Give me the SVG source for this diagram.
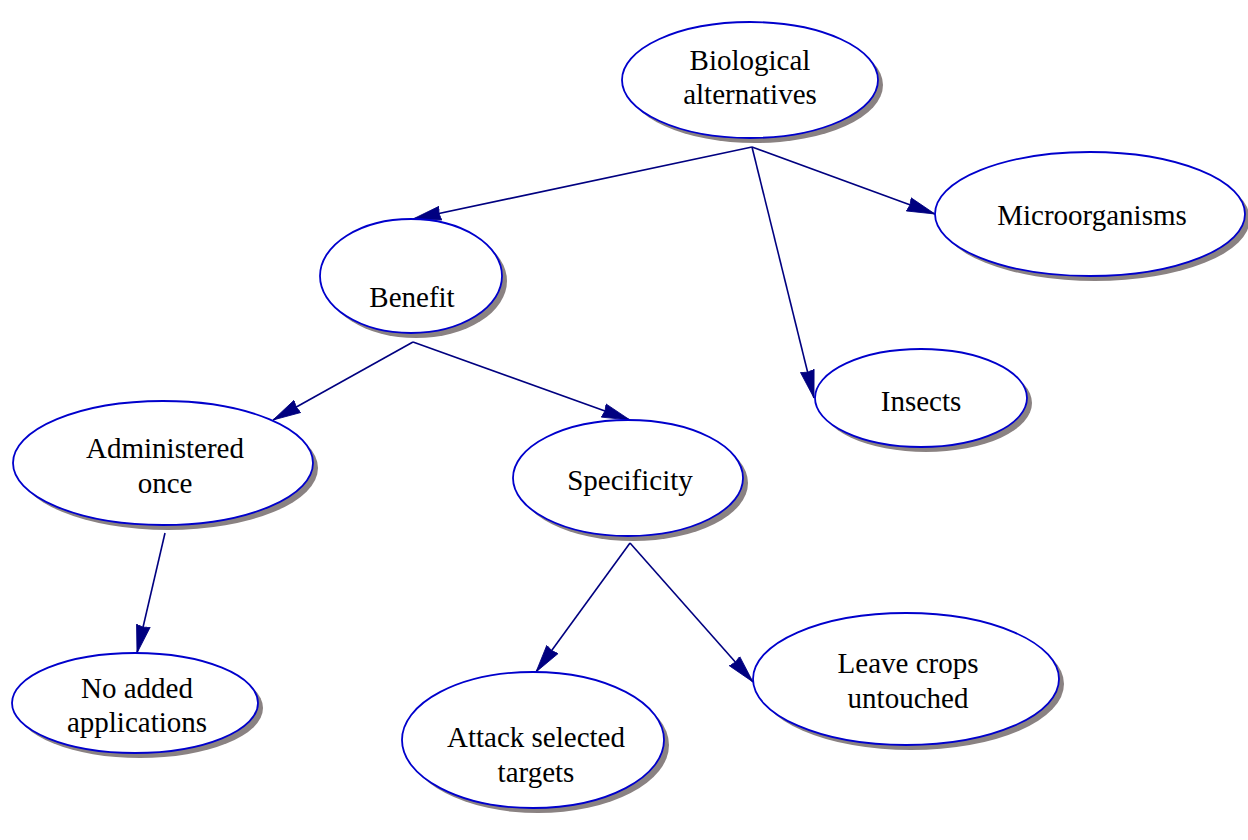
<svg xmlns="http://www.w3.org/2000/svg" width="1248" height="840" viewBox="0 0 1248 840">
  <style>
    .shadow { fill: #8a8282; }
    .node { fill: #ffffff; stroke: #0000cc; stroke-width: 1.8; }
    .label { font-family: "Liberation Serif", "Times New Roman", serif; font-size: 29px; fill: #000000; text-anchor: middle; }
    .edge { stroke: #000080; stroke-width: 1.6; fill: none; marker-end: url(#arrow); }
  </style>
  <defs>
    <marker id="arrow" markerUnits="userSpaceOnUse" markerWidth="30" markerHeight="18" refX="28" refY="9" orient="auto">
      <path d="M0,2 L28,9 L0,16 L1.5,9 z" fill="#000080" stroke="#000080" stroke-width="0.8" stroke-linejoin="round"/>
    </marker>
    <filter id="soft" x="-10%" y="-10%" width="120%" height="120%">
      <feGaussianBlur stdDeviation="0.6"/>
    </filter>
  </defs>
  <rect width="1248" height="840" fill="#ffffff"/>

  <g id="connectors">
    <line class="edge" x1="752" y1="147" x2="413" y2="219"/>
    <line class="edge" x1="752" y1="147" x2="935" y2="214"/>
    <line class="edge" x1="752" y1="147" x2="814" y2="398"/>
    <line class="edge" x1="413" y1="342" x2="273" y2="420"/>
    <line class="edge" x1="413" y1="342" x2="630" y2="420"/>
    <line class="edge" x1="165" y1="533" x2="137" y2="653"/>
    <line class="edge" x1="630" y1="543" x2="536" y2="672"/>
    <line class="edge" x1="630" y1="543" x2="753" y2="682"/>
  </g>

  <g id="node-biological">
    <ellipse class="shadow" filter="url(#soft)" cx="755" cy="85" rx="128" ry="58"/>
    <ellipse class="node" cx="750" cy="80" rx="128" ry="58"/>
    <text class="label" x="750" y="70">Biological</text>
    <text class="label" x="750" y="104">alternatives</text>
  </g>

  <g id="node-microorganisms">
    <ellipse class="shadow" filter="url(#soft)" cx="1095" cy="219" rx="155" ry="62"/>
    <ellipse class="node" cx="1090" cy="214" rx="155" ry="62"/>
    <text class="label" x="1092" y="225">Microorganisms</text>
  </g>

  <g id="node-benefit">
    <ellipse class="shadow" filter="url(#soft)" cx="416" cy="281" rx="91" ry="57"/>
    <ellipse class="node" cx="411" cy="276" rx="91" ry="57"/>
    <text class="label" x="412" y="307">Benefit</text>
  </g>

  <g id="node-insects">
    <ellipse class="shadow" filter="url(#soft)" cx="926" cy="403" rx="106" ry="49"/>
    <ellipse class="node" cx="921" cy="398" rx="106" ry="49"/>
    <text class="label" x="921" y="411">Insects</text>
  </g>

  <g id="node-administered">
    <ellipse class="shadow" filter="url(#soft)" cx="168" cy="468" rx="150" ry="62"/>
    <ellipse class="node" cx="163" cy="463" rx="150" ry="62"/>
    <text class="label" x="165" y="458">Administered</text>
    <text class="label" x="165" y="493">once</text>
  </g>

  <g id="node-specificity">
    <ellipse class="shadow" filter="url(#soft)" cx="633" cy="483" rx="115" ry="58"/>
    <ellipse class="node" cx="628" cy="478" rx="115" ry="58"/>
    <text class="label" x="630" y="490">Specificity</text>
  </g>

  <g id="node-no-added">
    <ellipse class="shadow" filter="url(#soft)" cx="140" cy="708" rx="123" ry="50"/>
    <ellipse class="node" cx="135" cy="703" rx="123" ry="50"/>
    <text class="label" x="137" y="698">No added</text>
    <text class="label" x="137" y="732">applications</text>
  </g>

  <g id="node-attack">
    <ellipse class="shadow" filter="url(#soft)" cx="538" cy="745" rx="131" ry="68"/>
    <ellipse class="node" cx="533" cy="740" rx="131" ry="68"/>
    <text class="label" x="536" y="747">Attack selected</text>
    <text class="label" x="536" y="782">targets</text>
  </g>

  <g id="node-leave">
    <ellipse class="shadow" filter="url(#soft)" cx="911" cy="684" rx="153" ry="66"/>
    <ellipse class="node" cx="906" cy="679" rx="153" ry="66"/>
    <text class="label" x="908" y="673">Leave crops</text>
    <text class="label" x="908" y="708">untouched</text>
  </g>
</svg>
